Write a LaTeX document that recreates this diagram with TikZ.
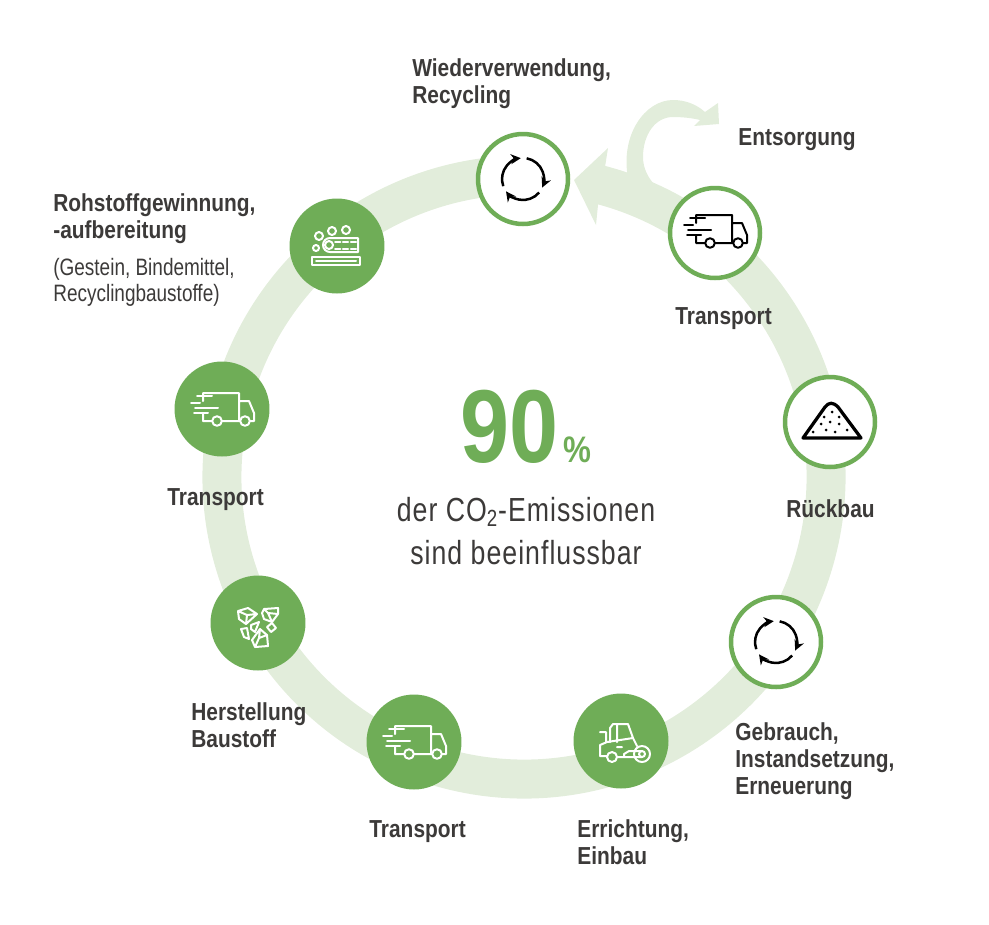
\documentclass[tikz,border=0pt]{standalone}
\usepackage{fontspec}
\usetikzlibrary{arrows.meta}
\newfontfamily\labelfont[FakeStretch=0.85]{Liberation Sans}
\newfontfamily\thinfont[FakeStretch=0.80]{Liberation Sans}
\newfontfamily\widefont[FakeStretch=0.80,LetterSpace=3]{Liberation Sans}
\definecolor{nodeColor}{HTML}{6FAD57}
\definecolor{ringColor}{HTML}{E2EDDB}
\definecolor{textColor}{HTML}{3C3A39}
\tikzset{
	fullnode/.style={circle,fill=nodeColor,minimum size=1.9cm,inner sep=0},
	opennode/.style={circle,draw=nodeColor,fill=white,line width=.09cm,minimum size=1.8cm,inner sep=0},
	steplabel/.style={anchor=north west,inner sep=0,align=left,text=textColor,font=\labelfont\bfseries\fontsize{14}{15.4}\selectfont},
	iconline/.style={line width=.04cm,line join=round,line cap=round},
	truck/.pic={
		\draw[iconline] (-10,10) -- (-19,10) -- (-19,2) (-19,-10) -- (-19,-18) -- (17,-18) -- (17,10) (17,-10) -- (27,-10) -- (32,2) -- (32,10) -- (28,10) (0,10) -- (18,10);
		\draw[iconline] (-5,10) circle (4.8) (23,10) circle (4.8);
		\draw[iconline] (-25,-15) -- (-10,-15) (-31,-8) -- (-22,-8) (-27,-3) -- (-4,-3) (-28,2) -- (-14,2);
	},
	cycle/.pic={
		\draw[line width=.05cm,-{Stealth[length=.2cm,width=.2cm]}] (160:21) arc[start angle=160,end angle=264,radius=21];
		\draw[line width=.05cm,-{Stealth[length=.2cm,width=.2cm]}] (280:21) arc[start angle=280,end angle=384,radius=21];
		\draw[line width=.05cm,-{Stealth[length=.2cm,width=.2cm]}] (40:21) arc[start angle=40,end angle=144,radius=21];
	},
	pile/.pic={
		\draw[line width=.065cm,line join=round] (-27,16) -- (-5,-15) .. controls (-1,-20) and (3,-20) .. (8,-15) -- (31,16) -- cycle;
		\foreach \dotx/\doty in {-17/10,-6/-5,2/-10,9/-5,-9/2,0/0,9/2,-4/8,5/10,17/8}
			\fill (\dotx,\doty) circle (1.5);
	},
	belt/.pic={
		\draw[iconline] (21,-8) -- (-7,-8) arc[start angle=270,end angle=90,radius=7] -- (21,6) -- cycle;
		\draw[iconline] (-8,-1) circle (4);
		\draw[iconline,dash pattern=on 3pt off 1.5pt] (-2,-4) -- (20,-4) (-2,3) -- (20,3);
		\draw[iconline] (-25,11) rectangle (23,19) (-21,15) -- (19,15);
		\draw[iconline] (-18,-10) circle (4) (-5,-15) circle (4) (9,-16) circle (4) (-21,2) circle (3);
	},
	rocks/.pic={
		\draw[iconline] (-20,-12) -- (-10,-15) -- (-1,-9) -- (-12,1) -- (-19,-4) -- cycle (-20,-12) -- (-11,-8) -- (-1,-9) (-11,-8) -- (-12,1);
		\draw[iconline] (6,-14) -- (20,-15) -- (20,-9) -- (14,-1) -- (6,-4) -- (4,-10) -- cycle (6,-14) -- (10,-10) -- (20,-9) (10,-10) -- (14,-1);
		\draw[iconline] (-7,2) -- (1,-1) -- (-3,9) -- (-7,6) -- cycle;
		\draw[iconline] (-17,6) -- (-11,5) -- (-9,16) -- (-14,14) -- cycle;
		\draw[iconline] (9,4) -- (14,0) -- (18,5) -- (13,9) -- cycle;
		\draw[iconline] (2,6) -- (9,12) -- (10,23) -- (-3,24) -- (-6,17) -- cycle (-3,24) -- (1,15) -- (9,12) (1,15) -- (2,6);
	},
	roller/.pic={
		\draw[iconline] (21,13) circle (8) (21,13) circle (3) (-9,16) circle (5);
		\draw[iconline] (-11,1) -- (-11,-13) -- (-8,-17) -- (7,-17) -- (12,-3) (-4,-17) -- (-4,1);
		\draw[iconline] (-14,15) -- (-21,15) -- (-21,4) -- (-14,1) -- (12,-3) -- (16,5);
		\draw[iconline] (-21,-9) -- (-15,-9) -- (-15,1) (-4,16) -- (21,16) (21,10) -- (8,10) -- (3,13) -- (3,16) (-4,6) -- (1,6);
	},
}
\begin{document}
\begin{tikzpicture}[x=.02cm,y=-.02cm]
	\useasboundingbox (0,0) rectangle (989,924);
	% ring, with both arrows
	\draw[ringColor,line width=.78cm] (524,477) ++(-76:302) arc[start angle=-76,end angle=270,radius=302];
	\fill[ringColor] (574,180) -- (608,148) -- (605,167) -- (598,205) -- (596,225) -- cycle;
	\fill[ringColor] (628,178) .. controls (620,135) and (645,100) .. (673,100) .. controls (685,100) and (696,104) .. (705,112) -- (718,103) -- (719,124) -- (694,126) -- (700,120) .. controls (692,118) and (682,117) .. (673,117) .. controls (655,117) and (643,135) .. (643,157) .. controls (643,168) and (648,178) .. (655,185) -- (680,200) -- cycle;
	% steps
	\node[opennode] (reuse) at (523,179) {};
	\node[opennode] (transA) at (715,233) {};
	\node[opennode] (demol) at (830,422) {};
	\node[opennode] (use) at (776,642) {};
	\node[fullnode] (build) at (621,741) {};
	\node[fullnode] (transB) at (414,742) {};
	\node[fullnode] (make) at (258,623) {};
	\node[fullnode] (transC) at (222,409) {};
	\node[fullnode] (raw) at (337,246) {};
	\pic at (reuse) {cycle};
	\pic at (transA) {truck};
	\pic at (demol) {pile};
	\pic at (use) {cycle};
	\pic[white] at (build) {roller};
	\pic[white,shift={(0,2)}] at (transB) {truck};
	\pic[white] at (make) {rocks};
	\pic[white,shift={(0,2)}] at (transC) {truck};
	\pic[white] at (raw) {belt};
	% labels
	\node[steplabel] (reuselab) at (412,58) {Wiederverwendung,\\Recycling};
	\node[steplabel] (disposal) at (738,128) {Entsorgung};
	\node[steplabel] (transAlab) at (675,307) {Transport};
	\node[steplabel] (demollab) at (786,499) {Rückbau};
	\node[steplabel] (uselab) at (735,722) {Gebrauch,\\Instandsetzung,\\Erneuerung};
	\node[steplabel] (buildlab) at (577,819) {Errichtung,\\Einbau};
	\node[steplabel] (transBlab) at (369,820) {Transport};
	\node[steplabel] (makelab) at (191,702) {Herstellung\\Baustoff};
	\node[steplabel] (transClab) at (167,488) {Transport};
	\node[steplabel] (rawlab) at (53,193) {Rohstoffgewinnung,\\-aufbereitung};
	\node[anchor=north west,inner sep=0,align=left,text=textColor,font=\thinfont\fontsize{13.5}{15}\selectfont] (rawsub) at (53,258) {(Gestein, Bindemittel,\\Recyclingbaustoffe)};
	% centre
	\node[anchor=base west,inner sep=0,text=nodeColor,font=\labelfont\bfseries\fontsize{59}{59}\selectfont] (share) at (460,462) {90};
	\node[anchor=base west,inner sep=0,text=nodeColor,font=\labelfont\bfseries\fontsize{21}{21}\selectfont] (percent) at (563,462) {\%};
	\node[anchor=base,inner sep=0,text=textColor,font=\widefont\fontsize{19}{24}\selectfont] (line1) at (526,521) {der CO\textsubscript{2}-Emissionen};
	\node[anchor=base,inner sep=0,text=textColor,font=\widefont\fontsize{19}{24}\selectfont] (line2) at (526,564) {sind beeinflussbar};
\end{tikzpicture}
\end{document}
